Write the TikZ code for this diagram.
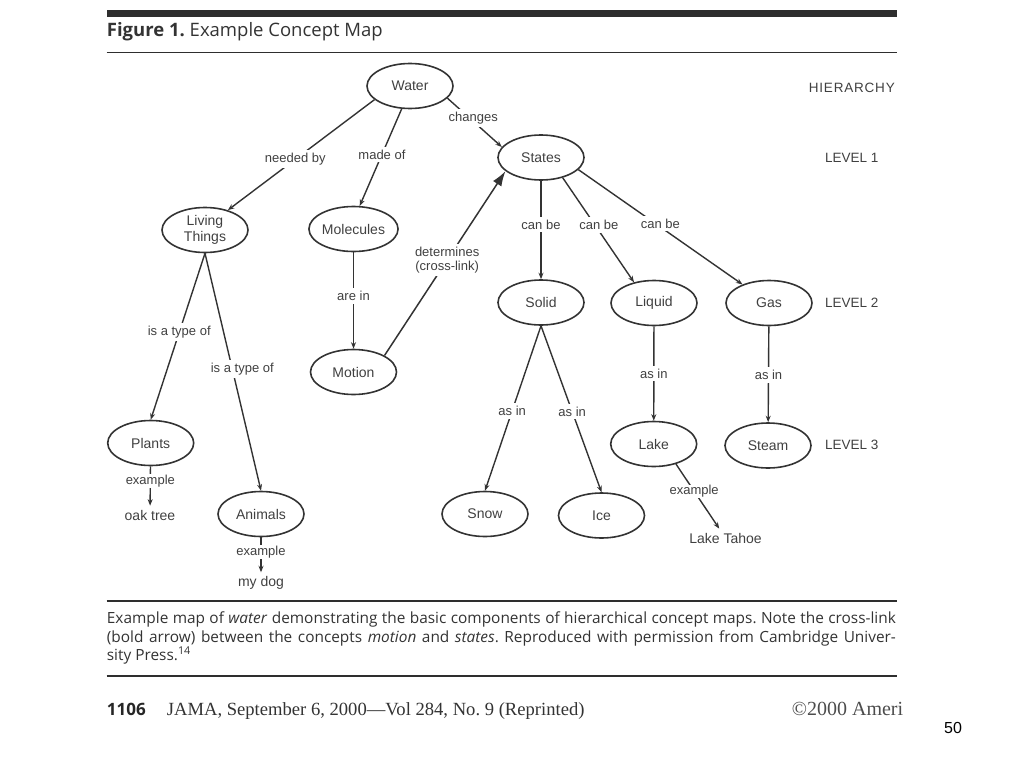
\documentclass[tikz,border=0pt]{standalone}
\usepackage{fontspec}
\usetikzlibrary{shapes.geometric,arrows.meta}
\newfontfamily\diagfont{Liberation Sans}
\newfontfamily\hierfont[LetterSpace=6]{Liberation Sans}
\newfontfamily\capfont{Open Sans}
\newfontfamily\serfont{Liberation Serif}
\definecolor{linec}{HTML}{333333}
\definecolor{textc}{HTML}{404040}
\definecolor{rulec}{HTML}{2E2E2E}
\tikzset{
  concept/.style={ellipse, draw=linec, line width=1.6pt, minimum width=86pt, minimum height=45pt,
    inner sep=0pt, align=center, text=textc, font=\diagfont\fontsize{14}{15.5}\selectfont},
  plain/.style={inner sep=4pt, text=textc, font=\diagfont\fontsize{14}{15}\selectfont},
  lbl/.style={fill=white, inner sep=3pt, align=center, text=textc, font=\diagfont\fontsize{13}{14.5}\selectfont},
  exlbl/.style={lbl, inner sep=0.6pt},
  link/.style={draw=linec, line width=1.4pt, -{Stealth[length=6.5pt,width=5pt]}},
  xlink/.style={draw=linec, line width=1.5pt, -{Latex[length=15pt,width=10pt]}},
  level/.style={inner sep=0pt, text=textc, font=\diagfont\fontsize{13.5}{15}\selectfont},
  rulebar/.style={draw=rulec},
  captxt/.style={inner sep=0pt, anchor=base west, text=black!80, font=\capfont\fontsize{15.4}{18}\selectfont}
}
\frenchspacing
\begin{document}
\begin{tikzpicture}[x=1pt,y=-1pt]
\useasboundingbox (0,0) rectangle (1024,768);
% header
\fill[rulec] (106.7,10) rectangle (897,17.5);
\node[inner sep=0pt, anchor=base west, text=black!80, font=\capfont\fontsize{18.5}{20}\selectfont] (title) at (106.7,36.7) {\textbf{Figure 1.} Example Concept Map};
\draw[rulebar, line width=1.3pt] (106.7,52.7) -- (897,52.7);
% concepts
\node[concept] (water) at (410,86) {Water};
\node[concept] (states) at (541,157.5) {States};
\node[concept] (living) at (205,230) {Living\\Things};
\node[concept] (molecules) at (353.5,229) {Molecules};
\node[concept] (motion) at (353.5,372) {Motion};
\node[concept] (solid) at (541,302.5) {Solid};
\node[concept] (liquid) at (654,303) {Liquid};
\node[concept] (gas) at (769,303) {Gas};
\node[concept] (plants) at (150.7,443) {Plants};
\node[concept] (animals) at (261,514) {Animals};
\node[concept] (snow) at (485,514) {Snow};
\node[concept] (ice) at (601.5,515.5) {Ice};
\node[concept] (lake) at (653.7,444) {Lake};
\node[concept] (steam) at (768,445.5) {Steam};
\node[plain] (oak) at (150,515) {oak tree};
\node[plain] (dog) at (261,583) {my dog};
\node[plain] (tahoe) at (725.5,538) {Lake Tahoe};
% hierarchy labels
\node[level, anchor=east, font=\hierfont\fontsize{13.5}{15}\selectfont] (hier) at (895,88) {HIERARCHY};
\node[level, anchor=west] (lev1) at (825,157.5) {LEVEL 1};
\node[level, anchor=west] (lev2) at (825,303) {LEVEL 2};
\node[level, anchor=west] (lev3) at (825,445) {LEVEL 3};
% links
\draw[link] (water.201) -- node[lbl,pos=.54]{needed by} (living.41);
\draw[link] (water.250) -- node[lbl,pos=.47]{made of} (molecules.75);
\draw[link] (water.-18) -- node[lbl,pos=.4,xshift=4pt]{changes} (states.165);
\draw[link] (living.south) -- node[lbl,pos=.475]{is a type of} (plants.north);
\draw[link] (living.south) -- node[lbl,pos=.487,xshift=10pt]{is a type of} (animals.north);
\draw[link] (molecules) -- node[lbl,pos=.454]{are in} (motion);
\draw[xlink] (motion.28) -- node[lbl,pos=.518]{determines\\(cross-link)} (states.201);
\draw[link] (states) -- node[lbl,pos=.443]{can be} (solid);
\draw[link] (states.-43) -- node[lbl,pos=.45,xshift=4pt]{can be} (liquid.134);
\draw[link] (states.-18) -- node[lbl,pos=.5,yshift=3.5pt]{can be} (gas.145);
\draw[link] (liquid) -- node[lbl,pos=.5]{as in} (lake);
\draw[link] (gas) -- node[lbl,pos=.51]{as in} (steam);
\draw[link] (solid.south) -- node[lbl,pos=.515]{as in} (snow.north);
\draw[link] (solid.south) -- node[lbl,pos=.515]{as in} (ice.north);
\draw[link] (lake.-42) -- node[exlbl,pos=.42]{example} (tahoe);
\draw[link] (plants) -- node[exlbl,pos=.37]{example} (oak);
\draw[link] (animals) -- node[exlbl,pos=.42]{example} (dog);
% caption
\draw[rulebar, line width=2pt] (106.7,601) -- (897,601);
\node[captxt] (cap1) at (106.7,623.3)
  {\makebox[789pt][s]{Example map of \textit{water} demonstrating the basic components of hierarchical concept maps. Note the cross-link}};
\node[captxt] (cap2) at (106.7,642.3)
  {\makebox[789pt][s]{(bold arrow) between the concepts \textit{motion} and \textit{states}. Reproduced with permission from Cambridge Univer-}};
\node[captxt] (cap3) at (106.7,660)
  {sity Press.\textsuperscript{14}};
\draw[rulebar, line width=2pt] (106.7,676) -- (897,676);
% footer
\node[inner sep=0pt, anchor=base west, text=black!85, font=\capfont\bfseries\fontsize{17}{20}\selectfont] (page) at (106.7,715) {1106};
\node[inner sep=0pt, anchor=base west, text=black!80, font=\serfont\fontsize{18.6}{20}\selectfont] (jama) at (166.7,715) {JAMA, September 6, 2000—Vol 284, No. 9 (Reprinted)};
\node[inner sep=0pt, anchor=base west, text=black!70, font=\serfont\fontsize{20}{22}\selectfont] (copy) at (791.7,715) {©2000 Ameri};
\node[inner sep=0pt, anchor=base west, text=black, font=\diagfont\fontsize{16}{18}\selectfont] (slide) at (944,733.3) {50};
\end{tikzpicture}
\end{document}
